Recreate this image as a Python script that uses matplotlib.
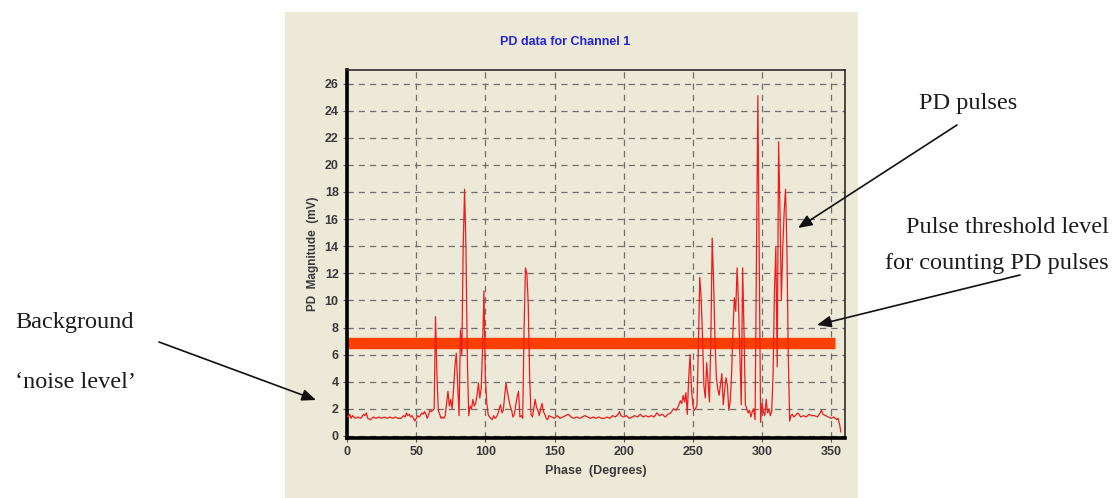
import matplotlib
matplotlib.use("Agg")
import matplotlib.pyplot as plt
from matplotlib.patches import Rectangle

# Phase (degrees) and measured PD magnitude (mV) for channel 1
phase_deg = [
    0, 1, 2, 3, 4, 5, 6, 8, 10, 12, 13, 14, 15, 17, 19, 21, 23, 25, 27, 29,
    31, 33, 35, 37, 39, 41, 42, 43, 44, 45, 46, 47, 48, 49, 50, 51, 52, 53, 54, 55,
    56, 57, 58, 59, 60, 61, 62, 63, 64, 65, 66, 67, 68, 69, 70, 71, 72, 73, 74, 75,
    76, 77, 78, 79, 80, 81, 82, 83, 84, 85, 86, 87, 88, 89, 90, 91, 92, 93, 94, 95,
    96, 97, 98, 99, 100, 101, 102, 103, 104, 105, 106, 107, 108, 109, 110, 111, 112, 113, 114, 115,
    116, 117, 118, 119, 120, 121, 122, 123, 124, 125, 126, 127, 128, 129, 130, 131, 132, 133, 134, 135,
    136, 137, 138, 139, 140, 141, 142, 143, 144, 145, 146, 148, 150, 152, 154, 156, 158, 160, 162, 164,
    166, 168, 170, 172, 174, 176, 178, 180, 182, 184, 186, 188, 190, 192, 194, 196, 197, 198, 200, 202,
    204, 206, 208, 210, 212, 214, 216, 218, 220, 222, 224, 226, 228, 230, 232, 234, 236, 238, 240, 241,
    242, 243, 244, 245, 246, 247, 248, 249, 250, 251, 252, 253, 254, 255, 256, 257, 258, 259, 260, 261,
    262, 263, 264, 265, 266, 267, 268, 269, 270, 271, 272, 273, 274, 275, 276, 277, 278, 279, 280, 281,
    282, 283, 284, 285, 286, 287, 288, 289, 290, 291, 292, 293, 294, 295, 296, 297, 298, 299, 300, 301,
    302, 303, 304, 305, 306, 307, 308, 309, 310, 311, 312, 313, 314, 315, 316, 317, 318, 319, 320, 321,
    322, 323, 324, 326, 328, 330, 332, 334, 336, 338, 340, 342, 343, 344, 346, 348, 350, 352, 354, 355,
    356, 357,
]
magnitude_mv = [
    1.5, 1.4, 1.6, 1.3, 1.5, 1.4, 1.3, 1.4, 1.3, 1.6, 1.5, 1.7, 1.3, 1.2, 1.4, 1.3, 1.4, 1.3, 1.4, 1.3,
    1.4, 1.3, 1.4, 1.3, 1.3, 1.5, 1.4, 1.7, 1.5, 1.6, 1.4, 1.5, 1.3, 1.1, 1.3, 1.5, 1.4, 1.5, 1.7, 1.6,
    1.8, 1.6, 1.3, 1.6, 1.9, 1.8, 1.9, 2.0, 8.8, 4.5, 1.9, 1.6, 1.3, 1.4, 1.3, 1.5, 2.4, 3.3, 2.2, 2.7,
    2.0, 3.4, 5.1, 6.1, 3.8, 1.5, 7.8, 6.0, 14.0, 18.2, 13.8, 5.6, 1.5, 2.2, 2.0, 2.7, 2.2, 2.4, 3.0, 3.9,
    2.8, 3.5, 6.5, 10.7, 4.3, 2.5, 1.6, 1.4, 1.3, 1.2, 1.5, 1.3, 1.4, 1.6, 2.0, 2.3, 1.7, 1.9, 3.0, 3.9,
    3.2, 2.7, 2.2, 1.9, 1.4, 1.6, 2.3, 2.9, 3.3, 1.4, 1.5, 1.3, 7.8, 12.4, 12.0, 9.8, 4.5, 1.6, 1.4, 2.0,
    2.7, 2.1, 1.9, 1.5, 2.0, 2.4, 1.8, 1.6, 1.3, 1.2, 1.5, 1.4, 1.3, 1.5, 1.3, 1.4, 1.5, 1.6, 1.4, 1.3,
    1.4, 1.3, 1.4, 1.5, 1.4, 1.3, 1.4, 1.3, 1.4, 1.3, 1.3, 1.4, 1.3, 1.5, 1.4, 1.6, 1.8, 1.5, 1.4, 1.5,
    1.3, 1.4, 1.5, 1.4, 1.6, 1.4, 1.5, 1.4, 1.5, 1.4, 1.7, 1.5, 1.6, 1.4, 1.6, 1.7, 2.0, 1.9, 2.3, 2.6,
    2.4, 3.0, 2.5, 3.2, 1.6, 4.3, 6.0, 3.5, 2.3, 1.9, 2.0, 2.3, 6.5, 11.7, 10.2, 7.3, 3.7, 2.8, 5.4, 3.9,
    2.5, 7.0, 14.6, 11.4, 7.2, 4.3, 3.5, 3.0, 3.8, 4.6, 2.3, 3.4, 4.3, 3.7, 1.9, 2.5, 4.5, 7.7, 10.2, 9.2,
    12.4, 9.8, 5.9, 2.3, 12.4, 7.7, 2.3, 2.0, 1.7, 1.9, 1.4, 1.8, 2.0, 1.2, 12.9, 25.1, 12.6, 1.0, 2.4, 1.8,
    1.5, 2.7, 1.7, 2.0, 1.5, 1.8, 4.5, 10.7, 13.9, 5.1, 21.7, 16.6, 10.0, 13.9, 16.5, 18.2, 13.9, 5.9, 1.1, 1.5,
    1.6, 1.4, 1.5, 1.7, 1.4, 1.5, 1.4, 1.6, 1.5, 1.5, 1.4, 1.7, 1.9, 1.6, 1.5, 1.4, 1.3, 1.4, 1.2, 1.3,
    0.9, 0.3,
]

# Pulse counting threshold (mV) and the phase span it is drawn over
threshold_mv = 6.85
threshold_span = [0, 353]

x_ticks = [0, 50, 100, 150, 200, 250, 300, 350]
y_ticks = [0, 2, 4, 6, 8, 10, 12, 14, 16, 18, 20, 22, 24, 26]

W, H = 1115, 498
PANEL = "#ECE9D8"

fig = plt.figure(figsize=(W / 100, H / 100), dpi=100)
fig.patch.set_facecolor("white")

def fx(px):
    return px / W

def fy(py):
    return 1 - py / H

# Instrument-window background panel
fig.patches.append(Rectangle((fx(285), 0), fx(858) - fx(285), fy(12),
                             transform=fig.transFigure, facecolor=PANEL,
                             edgecolor="none", zorder=0))

ax = fig.add_axes([fx(347), fy(438), fx(845) - fx(347), fy(70) - fy(438)])
ax.set_zorder(2)
ax.set_facecolor(PANEL)
ax.set_xlim(0, 360)
ax.set_ylim(-0.15, 27)

ax.grid(True, linestyle=(0, (5, 4)), color="#6f6f6f", linewidth=0.9, zorder=1)
ax.set_axisbelow(True)

ax.plot(threshold_span, [threshold_mv, threshold_mv], color="#FF4000",
        linewidth=8.2, solid_capstyle="butt", zorder=2)
ax.plot(phase_deg, magnitude_mv, color="#EE1C1C", linewidth=0.9, zorder=3)

ax.set_xticks(x_ticks)
ax.set_yticks(y_ticks)
tick_font = dict(family="Liberation Sans", weight="bold", size=9)
ax.set_xticklabels([str(v) for v in x_ticks], **tick_font, color="#3a3a3a")
ax.set_yticklabels([str(v) for v in y_ticks], **tick_font, color="#3a3a3a")
ax.tick_params(axis="both", direction="out", length=3, width=0.8,
               color="#555555", pad=3)

for side in ("left", "bottom"):
    ax.spines[side].set_linewidth(2.6)
    ax.spines[side].set_color("black")
for side in ("top", "right"):
    ax.spines[side].set_linewidth(1.2)
    ax.spines[side].set_color("#2b2b2b")

ax.set_xlabel("Phase  (Degrees)", family="Liberation Sans", weight="bold",
              size=9, color="#3a3a3a", labelpad=5)
ax.set_ylabel("PD  Magnitude  (mV)", family="Liberation Sans", weight="bold",
              size=8.5, color="#3a3a3a", labelpad=4)

fig.text(fx(565), fy(42), "PD data for Channel 1", ha="center", va="center",
         family="Liberation Sans", weight="bold", size=9, color="#2424D8")

# Explanatory notes around the chart
note = dict(family="Liberation Serif", size=17.5, color="#1c1c1c")
fig.text(fx(15), fy(322), "Background", ha="left", va="center", **note)
fig.text(fx(15), fy(382), "\u2018noise level\u2019", ha="left", va="center", **note)
fig.text(fx(968), fy(103), "PD pulses", ha="center", va="center", **note)
fig.text(fx(1109), fy(227), "Pulse threshold level", ha="right", va="center", **note)
fig.text(fx(1109), fy(263), "for counting PD pulses", ha="right", va="center", **note)

arrow = dict(arrowstyle="-|>,head_length=0.6,head_width=0.25", color="#111111",
             lw=1.2, mutation_scale=14, shrinkA=0, shrinkB=0)
for (x1, y1), (x2, y2) in [((159, 342), (316, 400)),
                           ((957, 125), (798, 228)),
                           ((1020, 275), (817, 325))]:
    ax.annotate("", xy=(fx(x2), fy(y2)), xytext=(fx(x1), fy(y1)),
                xycoords="figure fraction", textcoords="figure fraction",
                arrowprops=arrow, annotation_clip=False)

fig.savefig("out.png", dpi=100)
